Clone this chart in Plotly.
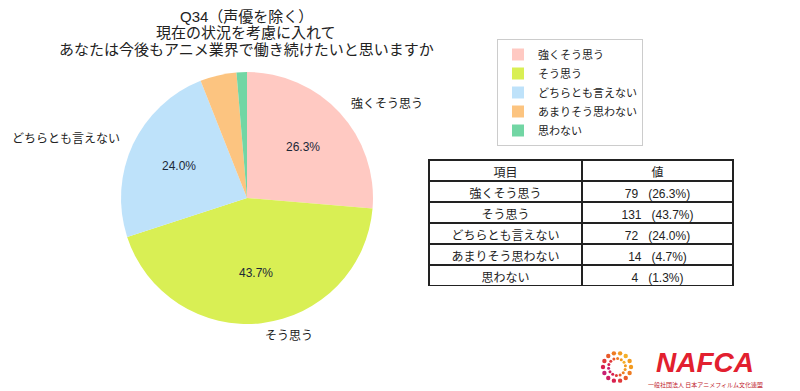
import math
import plotly.graph_objects as go

# ---- data ----
labels = ["強くそう思う", "そう思う", "どちらとも言えない", "あまりそう思わない", "思わない"]
counts = [79, 131, 72, 14, 4]
pcts = [26.3, 43.7, 24.0, 4.7, 1.3]
outer_text = ["強くそう思う", "そう思う", "どちらとも言えない", "", ""]
inner_text = ["26.3%", "43.7%", "24.0%", "", ""]
colors = ["#FFC9C2", "#D9EF54", "#BEE2FA", "#FCC480", "#72D6A4"]
title_lines = ["Q34（声優を除く）", "現在の状況を考慮に入れて", "あなたは今後もアニメ業界で働き続けたいと思いますか"]
table_header = ["項目", "値"]

W, H = 800, 391
OFF = 8  # page body margin offset
FONT = "Liberation Sans, Noto Sans CJK JP, sans-serif"


def px(x):
    return (x - OFF) / W


def py(y):
    return 1 - (y - OFF) / H


# pie geometry (pixels in the screenshot)
cx, cy, r = 247, 198, 126

fig = go.Figure()
fig.add_trace(go.Pie(
    labels=labels, values=counts, sort=False, direction="clockwise", rotation=0,
    marker=dict(colors=colors, line=dict(width=0)),
    textinfo="none", hoverinfo="label+percent",
    domain=dict(x=[px(cx - r), px(cx + r)], y=[py(cy + r), py(cy - r)]),
    showlegend=True,
))

value_col = [f"{c}\u00a0\u00a0\u00a0({p:.1f}%)" for c, p in zip(counts, pcts)]
fig.add_trace(go.Table(
    domain=dict(x=[px(429), px(733)], y=[py(286), py(160)]),
    columnwidth=[153, 151],
    header=dict(values=table_header, fill_color="white",
                line=dict(color="#222222", width=1.2), align="center",
                font=dict(family=FONT, size=12, color="#222222"), height=21),
    cells=dict(values=[labels, value_col], fill_color="white",
               line=dict(color="#222222", width=1.2), align="center",
               font=dict(family=FONT, size=12, color="#222222"), height=21),
))

annotations = []
total = sum(counts)
cum = 0
for lab_o, lab_i, c in zip(outer_text, inner_text, counts):
    mid = (cum + c / 2) / total * 2 * math.pi
    cum += c
    sx, sy = math.sin(mid), -math.cos(mid)
    if lab_o:
        lx, ly = cx + 1.1 * r * sx, cy + 1.1 * r * sy
        annotations.append(dict(x=px(lx), y=py(ly), xref="paper", yref="paper",
                                text=lab_o, showarrow=False,
                                xanchor="left" if sx >= 0 else "right", yanchor="middle",
                                font=dict(family=FONT, size=12, color="#222222")))
    if lab_i:
        ix, iy = cx + 0.6 * r * sx, cy + 0.6 * r * sy
        annotations.append(dict(x=px(ix), y=py(iy), xref="paper", yref="paper",
                                text=lab_i, showarrow=False,
                                xanchor="center", yanchor="middle",
                                font=dict(family=FONT, size=12, color="#1b2838")))

for line, yy in zip(title_lines, [16, 32.5, 49]):
    annotations.append(dict(x=px(246), y=py(yy), xref="paper", yref="paper",
                            text=line, showarrow=False, xanchor="center", yanchor="middle",
                            font=dict(family=FONT, size=15, color="#222222")))

# logo text
annotations.append(dict(x=px(705), y=py(379), xref="paper", yref="paper",
                        text="<b><i>NAFCA</i></b>", showarrow=False,
                        xanchor="center", yanchor="bottom", borderpad=0,
                        font=dict(family="Liberation Sans, sans-serif", size=28, color="#E2202F")))
annotations.append(dict(x=px(705), y=py(379), xref="paper", yref="paper",
                        text="一般社団法人 日本アニメフィルム文化連盟", showarrow=False,
                        xanchor="center", yanchor="top", borderpad=0,
                        font=dict(family="Noto Sans CJK JP, sans-serif", size=6, color="#C0182A")))

# logo dot ring
shapes = []
lcx, lcy = 617, 367
ring_cols = ["#F29A1F", "#EE7B22", "#E85A2A", "#E03A3C", "#D8204F", "#CF1E63", "#C81F72",
             "#D8204F", "#E03A3C", "#E85A2A", "#EE7B22", "#F29A1F", "#F4B02A", "#F29A1F"]
for k, col in enumerate(ring_cols):
    a = k / len(ring_cols) * 2 * math.pi
    for rad, dot in [(14, 2.2), (8.5, 1.5)]:
        x0 = lcx + rad * math.cos(a + (0.3 if rad < 10 else 0))
        y0 = lcy + rad * math.sin(a + (0.3 if rad < 10 else 0))
        shapes.append(dict(type="circle", xref="paper", yref="paper",
                           x0=px(x0 - dot), x1=px(x0 + dot), y0=py(y0 + dot), y1=py(y0 - dot),
                           fillcolor=col, line=dict(width=0)))

fig.update_layout(
    width=W, height=H, margin=dict(l=0, r=0, t=0, b=0),
    paper_bgcolor="white", plot_bgcolor="white",
    font=dict(family=FONT, size=12, color="#222222"),
    legend=dict(x=px(497), y=py(39), xanchor="left", yanchor="top",
                bordercolor="#cccccc", borderwidth=1, bgcolor="white",
                font=dict(family=FONT, size=11, color="#222222"),
                itemwidth=30, tracegroupgap=0),
    annotations=annotations, shapes=shapes,
)

fig.write_html("out.html")
